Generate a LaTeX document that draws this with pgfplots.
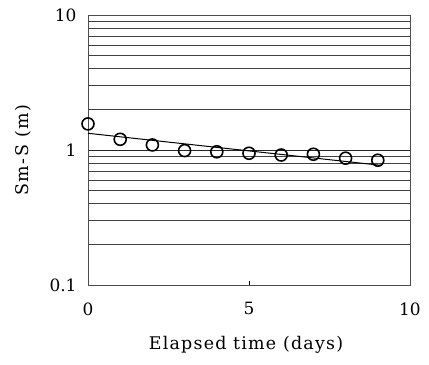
\documentclass[border=0pt]{standalone}
\usepackage{fontspec}
\setmainfont{DejaVu Serif}
\usepackage{pgfplots}
\pgfplotsset{compat=1.18}
\begin{document}
\begin{tikzpicture}
\begin{axis}[
 scale only axis, width=322bp, height=270bp,
 ymode=log, xmin=0, xmax=10, ymin=0.1, ymax=10,
 xtick={0,5,10}, ytick={0.1,1,10}, yticklabels={0.1,1,10},
 /pgf/number format/assume math mode=true,
 tick label style={font=\fontsize{17}{20}\selectfont},
 xlabel={Elapsed time (days)}, ylabel={Sm-S (m)},
 every axis x label/.style={at={(axis description cs:0.5,0)}, yshift=-60bp, xshift=-3bp, anchor=center, font=\fontsize{17.5}{21}\selectfont\addfontfeature{LetterSpace=7}},
 every axis y label/.style={at={(axis description cs:0,0.5)}, xshift=-65bp, rotate=90, anchor=center, font=\fontsize{17.5}{21}\selectfont\addfontfeature{LetterSpace=9}},
 ymajorgrids, yminorgrids,
 major grid style={black!85, line width=0.7pt},
 minor grid style={black!75, line width=0.7pt},
 axis line style={black!70, line width=0.5pt},
 tick align=inside, major tick length=4bp, minor tick length=0pt,
 xtick pos=bottom,
 ytick style={draw=none},
 xtick style={black, line width=0.6pt},
 xticklabel style={yshift=-14bp},
 yticklabel style={xshift=-8bp},
 clip=false,
]
\addplot[black, line width=1pt] coordinates {(0,1.33) (9.1,0.77)};
\addplot[only marks, mark=o, mark size=6bp, line width=1.6pt, black] coordinates {
(0,1.56) (1,1.20) (2,1.09) (3,0.99) (4,0.97) (5,0.946) (6,0.918) (7,0.93) (8,0.87) (9,0.84)};
\end{axis}
\path ([shift={(-88bp,-80bp)}]current axis.south west) rectangle ([shift={(19bp,15bp)}]current axis.north east);
\end{tikzpicture}
\end{document}
